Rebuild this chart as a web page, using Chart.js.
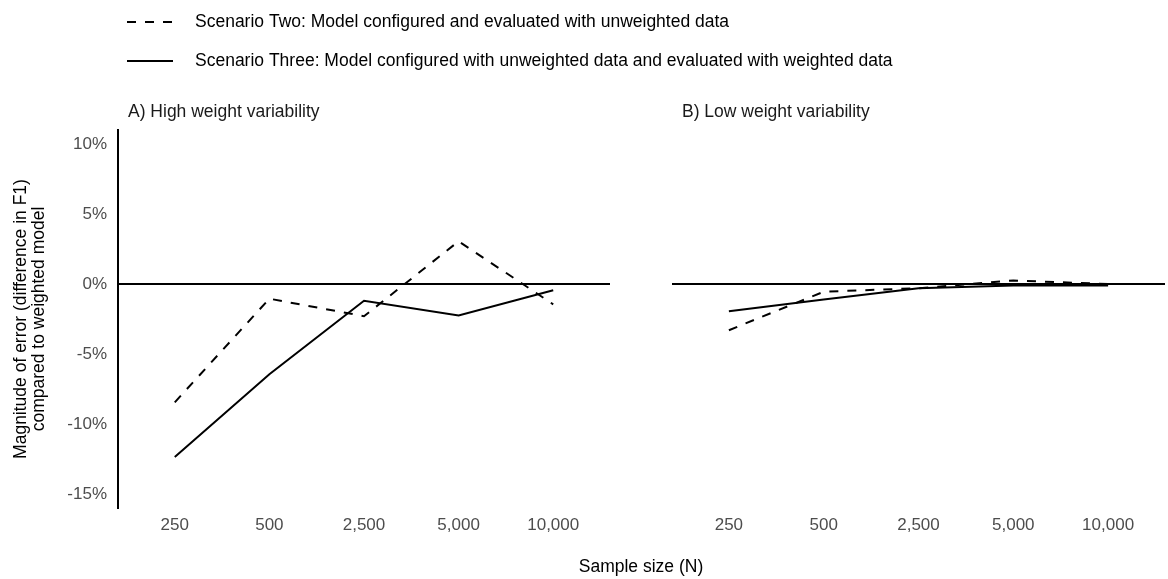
<!DOCTYPE html>
<html>
<head>
<meta charset="utf-8">
<script src="https://cdn.jsdelivr.net/npm/chart.js@4.4.1/dist/chart.umd.min.js"></script>
<style>
  body { margin: 0; background: #fff; }
  #wrap { position: relative; width: 1168px; height: 579px; }
  #wrap canvas { position: absolute; left: 0; top: 0; }
</style>
</head>
<body>
<div id="wrap">
  <canvas id="panelA" width="1168" height="579"></canvas>
  <canvas id="panelB" width="1168" height="579"></canvas>
</div>
<script>
// Sample sizes (x categories) and y ticks (%)
const sampleSizes = ['250', '500', '2,500', '5,000', '10,000'];
const yTicks = [-15, -10, -5, 0, 5, 10];

// A) High weight variability
const highTwo = [-8.45, -1.05, -2.3, 3.05, -1.45];
const highThree = [-12.35, -6.45, -1.2, -2.25, -0.45];

// B) Low weight variability
const lowTwo = [-3.3, -0.55, -0.3, 0.25, 0.0];
const lowThree = [-1.95, -1.1, -0.3, -0.1, -0.1];

const labelTwo = 'Scenario Two: Model configured and evaluated with unweighted data';
const labelThree = 'Scenario Three: Model configured with unweighted data and evaluated with weighted data';

const FONT = '"Liberation Sans", Arial, sans-serif';
Chart.defaults.font.family = FONT;
Chart.defaults.font.size = 17;

function toPoints(values) {
    return values.map((v, i) => ({ x: i, y: v }));
}

function makeDatasets(two, three) {
    return [
        { label: labelTwo, data: toPoints(two), borderColor: '#000', borderWidth: 2, borderDash: [9, 9], pointRadius: 0, tension: 0, fill: false },
        { label: labelThree, data: toPoints(three), borderColor: '#000', borderWidth: 2, pointRadius: 0, tension: 0, fill: false }
    ];
}

// legend, panel titles and x title
const decor = {
    id: 'decor',
    afterDraw(chart, args, opts) {
        const ctx = chart.ctx;
        const area = chart.chartArea;
        ctx.save();
        ctx.font = '17.5px ' + FONT;
        ctx.textBaseline = 'middle';
        ctx.textAlign = 'left';
        if (opts.legend) {
            chart.data.datasets.forEach((ds, i) => {
                const y = 22 + i * 39;
                ctx.beginPath();
                ctx.setLineDash(ds.borderDash || []);
                ctx.lineWidth = 2;
                ctx.strokeStyle = '#000';
                ctx.moveTo(127, y);
                ctx.lineTo(173, y);
                ctx.stroke();
                ctx.setLineDash([]);
                ctx.fillStyle = '#000';
                ctx.fillText(ds.label, 195, y);
            });
        }
        ctx.fillStyle = '#1a1a1a';
        ctx.fillText(opts.title, area.left + 10, area.top - 18);
        if (opts.xTitle) {
            ctx.textAlign = 'center';
            ctx.fillStyle = '#000';
            ctx.fillText(opts.xTitle, 641, 567);
        }
        ctx.restore();
    }
};

function createChart(id, datasets, cfg) {
    return new Chart(document.getElementById(id), {
        type: 'line',
        data: { datasets: datasets },
        plugins: [decor],
        options: {
            responsive: false,
            animation: false,
            layout: { padding: { left: 0, right: cfg.right, top: 130, bottom: 0 } },
            plugins: {
                legend: { display: false },
                tooltip: { enabled: false },
                decor: { legend: cfg.legend, title: cfg.title, xTitle: cfg.xTitle }
            },
            scales: {
                x: {
                    type: 'linear',
                    min: -0.6,
                    max: 4.6,
                    afterBuildTicks: (scale) => { scale.ticks = sampleSizes.map((s, i) => ({ value: i })); },
                    afterFit: (scale) => { scale.height = 71; },
                    ticks: {
                        callback: (v) => sampleSizes[v],
                        autoSkip: false,
                        maxRotation: 0,
                        padding: 7,
                        color: '#4d4d4d'
                    },
                    grid: { display: false, drawTicks: false },
                    border: { display: false }
                },
                y: {
                    min: -16,
                    max: 11,
                    afterBuildTicks: (scale) => { scale.ticks = yTicks.map(v => ({ value: v })); },
                    afterFit: (scale) => { scale.width = cfg.left; },
                    ticks: {
                        display: cfg.yLabels,
                        callback: (v) => v + '%',
                        padding: 11,
                        color: '#4d4d4d'
                    },
                    grid: {
                        drawTicks: false,
                        lineWidth: 2,
                        color: (c) => (c.tick && c.tick.value === 0) ? '#000' : 'rgba(0,0,0,0)'
                    },
                    border: { display: cfg.yLabels, color: '#000', width: 2 },
                    title: {
                        display: cfg.yLabels,
                        text: ['Magnitude of error (difference in F1)', 'compared to weighted model'],
                        color: '#000',
                        font: { size: 17.5, lineHeight: 1.03 },
                        padding: { top: 12, bottom: 0 }
                    }
                }
            }
        }
    });
}

window.onload = function() {
    createChart('panelA', makeDatasets(highTwo, highThree), {
        left: 118, right: 558, yLabels: true, legend: true,
        title: 'A) High weight variability', xTitle: 'Sample size (N)'
    });
    createChart('panelB', makeDatasets(lowTwo, lowThree), {
        left: 672, right: 3, yLabels: false, legend: false,
        title: 'B) Low weight variability', xTitle: null
    });
};
</script>
</body>
</html>
